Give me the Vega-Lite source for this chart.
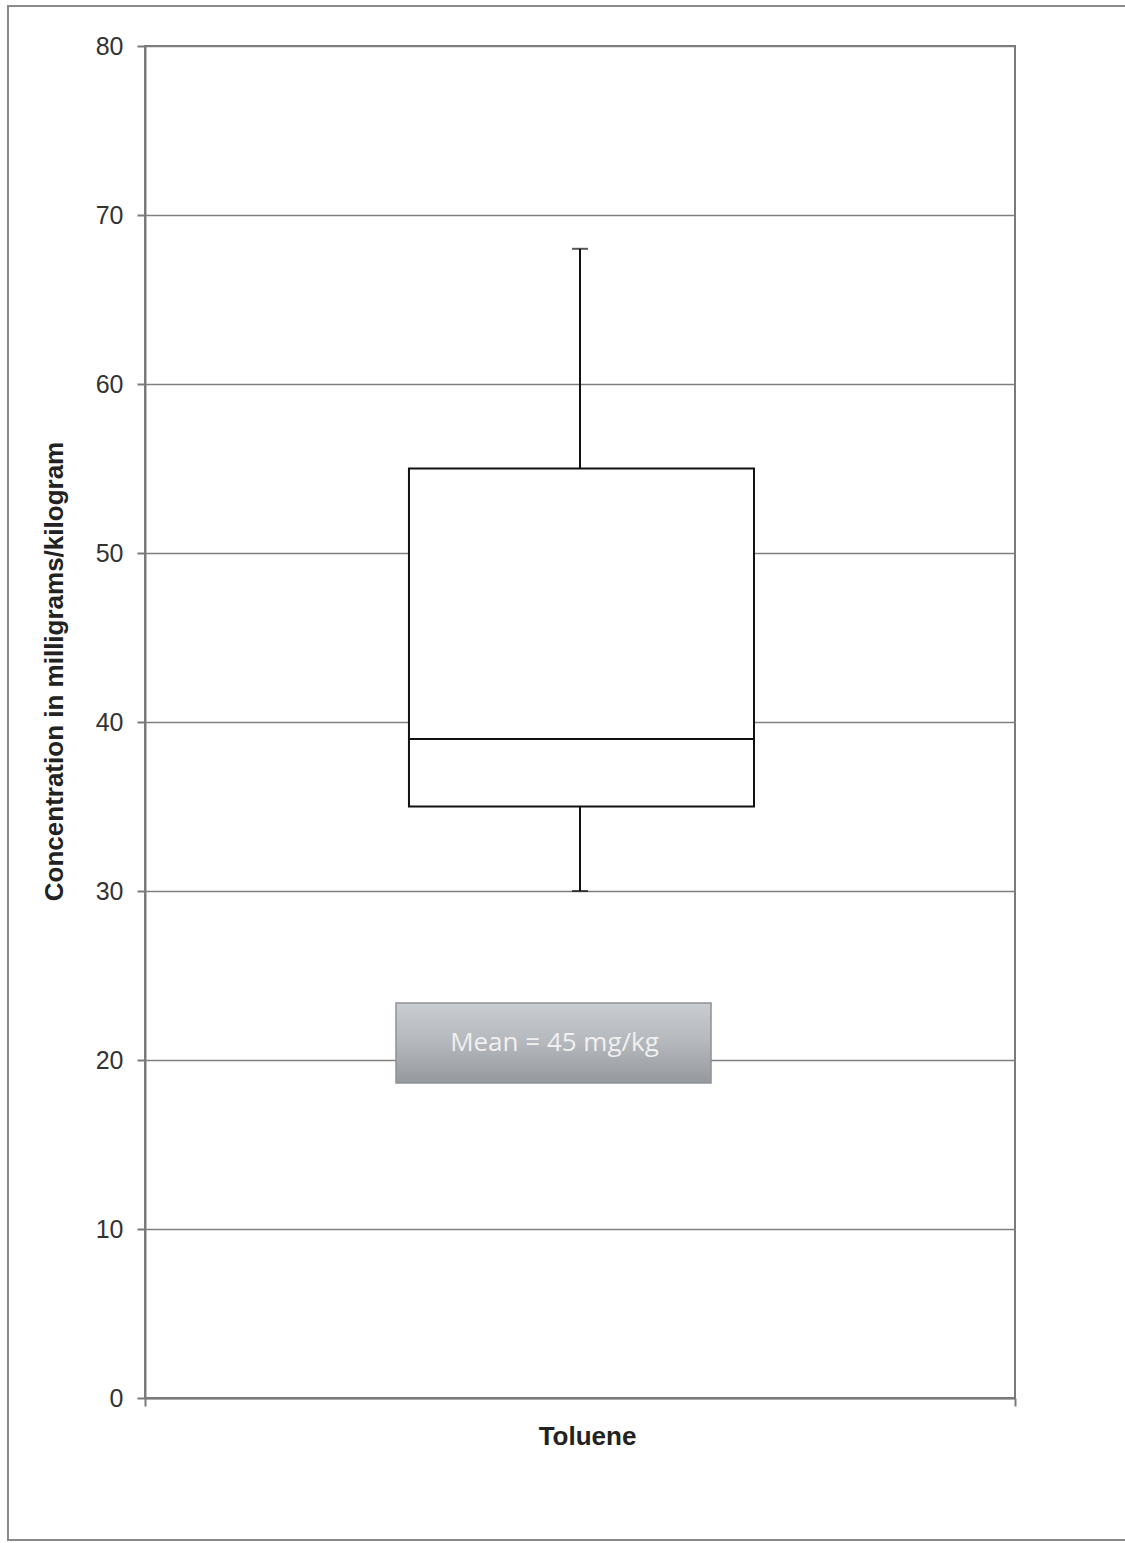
{
  "$schema": "https://vega.github.io/schema/vega-lite/v6.json",
  "width": 870,
  "height": 1352,
  "autosize": {"type": "none"},
  "padding": {"left": 145, "top": 46, "right": 110, "bottom": 145},
  "background": "white",
  "config": {
    "view": {"stroke": "#7a7a7a", "strokeWidth": 2},
    "font": "Liberation Sans"
  },
  "data": {
    "values": [
      {"category": "Toluene", "min": 30, "q1": 35, "median": 39, "q3": 55, "max": 68, "mean": 45, "mean_label": "Mean = 45 mg/kg"}
    ]
  },
  "encoding": {
    "x": {
      "type": "quantitative",
      "scale": {"domain": [0, 1], "nice": false, "zero": false},
      "axis": {
        "title": "Toluene",
        "values": [0, 1],
        "labels": false,
        "grid": false,
        "tickSize": 8,
        "tickColor": "#7a7a7a",
        "tickWidth": 2,
        "domainColor": "#7a7a7a",
        "domainWidth": 2,
        "titleFont": "Liberation Sans",
        "titleFontSize": 26,
        "titleFontWeight": "bold",
        "titleColor": "#222222",
        "titlePadding": 16,
        "titleX": 442
      }
    },
    "y": {
      "type": "quantitative",
      "scale": {"domain": [0, 80], "nice": false},
      "axis": {
        "title": "Concentration in milligrams/kilogram",
        "values": [0, 10, 20, 30, 40, 50, 60, 70, 80],
        "grid": true,
        "gridColor": "#7f7f7f",
        "gridWidth": 1.6,
        "tickSize": 8,
        "tickColor": "#7a7a7a",
        "tickWidth": 2,
        "domainColor": "#7a7a7a",
        "domainWidth": 2,
        "labelFont": "Liberation Sans",
        "labelFontSize": 25,
        "labelColor": "#333333",
        "labelPadding": 14,
        "titleFont": "Liberation Sans",
        "titleFontSize": 26,
        "titleFontWeight": "bold",
        "titleColor": "#222222",
        "titlePadding": 28,
        "titleY": 625
      }
    }
  },
  "layer": [
    {
      "mark": {"type": "rect", "fill": null, "stroke": "#8a8a8a", "strokeWidth": 2, "clip": false},
      "encoding": {
        "x": {"datum": -0.1575},
        "x2": {"datum": 1.14},
        "y": {"datum": 82.37},
        "y2": {"datum": -8.4}
      }
    },
    {
      "mark": {
        "type": "rect",
        "stroke": "#8f9297",
        "strokeWidth": 1.5,
        "fill": {
          "gradient": "linear",
          "x1": 0, "y1": 0, "x2": 0, "y2": 1,
          "stops": [
            {"offset": 0, "color": "#c9ccd1"},
            {"offset": 0.5, "color": "#b4b7bc"},
            {"offset": 1, "color": "#95989d"}
          ]
        }
      },
      "encoding": {
        "x": {"datum": 0.2885},
        "x2": {"datum": 0.6506},
        "y": {"datum": 23.37},
        "y2": {"datum": 18.64}
      }
    },
    {
      "mark": {"type": "text", "font": "Open Sans", "fontSize": 26, "color": "#f0f0f0", "align": "center", "baseline": "middle"},
      "encoding": {
        "x": {"datum": 0.4707},
        "y": {"datum": 21.0},
        "text": {"field": "mean_label"}
      }
    },
    {
      "mark": {"type": "rule", "color": "#111111", "strokeWidth": 2},
      "encoding": {
        "x": {"datum": 0.5},
        "y": {"field": "min"},
        "y2": {"field": "q1"}
      }
    },
    {
      "mark": {"type": "rule", "color": "#111111", "strokeWidth": 2},
      "encoding": {
        "x": {"datum": 0.5},
        "y": {"field": "q3"},
        "y2": {"field": "max"}
      }
    },
    {
      "mark": {"type": "rect", "fill": "white", "stroke": "#111111", "strokeWidth": 2},
      "encoding": {
        "x": {"datum": 0.3034},
        "x2": {"datum": 0.7},
        "y": {"field": "q1"},
        "y2": {"field": "q3"}
      }
    },
    {
      "mark": {"type": "rule", "color": "#111111", "strokeWidth": 2},
      "encoding": {
        "x": {"datum": 0.3034},
        "x2": {"datum": 0.7},
        "y": {"field": "median"}
      }
    },
    {
      "mark": {"type": "tick", "orient": "horizontal", "color": "#111111", "size": 16, "thickness": 2},
      "encoding": {
        "x": {"datum": 0.5},
        "y": {"field": "max"}
      }
    },
    {
      "mark": {"type": "tick", "orient": "horizontal", "color": "#111111", "size": 16, "thickness": 2},
      "encoding": {
        "x": {"datum": 0.5},
        "y": {"field": "min"}
      }
    }
  ]
}
